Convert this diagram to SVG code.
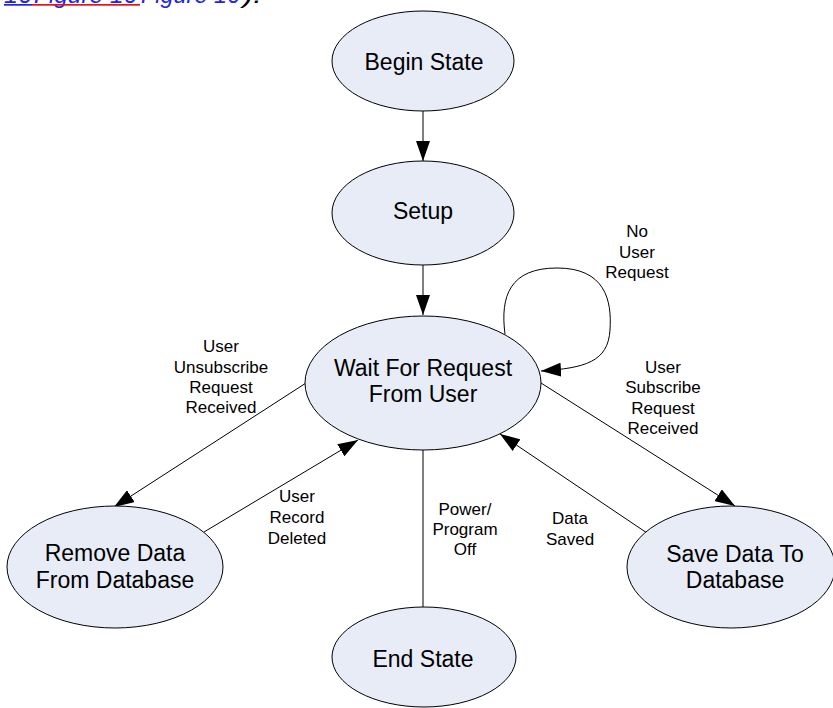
<svg xmlns="http://www.w3.org/2000/svg" width="833" height="708" viewBox="0 0 833 708">
<style>
.node ellipse{fill:#E7ECF7;stroke:#000;stroke-width:1}
.node text{font-family:"Liberation Sans",Arial,sans-serif;font-size:23px;fill:#000;text-anchor:middle}
.edge{fill:none;stroke:#000;stroke-width:1}
.lbl{font-family:"Liberation Sans",Arial,sans-serif;font-size:17px;fill:#000;text-anchor:middle}
.ref{font-family:"Liberation Sans",Arial,sans-serif;font-size:23px;font-style:italic}
</style>
<defs>
<marker id="ah" markerWidth="20" markerHeight="14" refX="20" refY="7" orient="auto" markerUnits="userSpaceOnUse">
<path d="M0,0 L20,7 L0,14 z" fill="#000"/>
</marker>
</defs>
<rect width="833" height="708" fill="#fff"/>
<g id="caption">
<text class="ref" x="4" y="3" fill="#2222EE" textLength="28" lengthAdjust="spacingAndGlyphs">16</text>
<text class="ref" x="34" y="3" fill="#2222EE" textLength="103" lengthAdjust="spacingAndGlyphs">Figure 16</text>
<text class="ref" x="141" y="3" fill="#2222EE" textLength="99" lengthAdjust="spacingAndGlyphs">Figure 16</text>
<text class="ref" x="243" y="3" fill="#000" textLength="19" lengthAdjust="spacingAndGlyphs">).</text>
<rect x="4" y="4" width="28" height="1.7" fill="#2222EE"/>
<rect x="32" y="4" width="108" height="1.7" fill="#EE1111"/>
</g>
<g id="connectors">
<line class="edge" x1="423" y1="111" x2="423" y2="161" marker-end="url(#ah)"/>
<line class="edge" x1="423" y1="265" x2="423" y2="315" marker-end="url(#ah)"/>
<line class="edge" x1="306" y1="383" x2="114" y2="507" marker-end="url(#ah)"/>
<line class="edge" x1="204" y1="532" x2="358" y2="440" marker-end="url(#ah)"/>
<line class="edge" x1="647" y1="533" x2="500" y2="434" marker-end="url(#ah)"/>
<line class="edge" x1="541" y1="383" x2="735" y2="506" marker-end="url(#ah)"/>
<line class="edge" x1="423" y1="450" x2="423" y2="607"/>
<path class="edge" d="M505,334 C500,296 510,268 557,268 C605,268 612,300 610,330 C608,362 585,368 541,371" marker-end="url(#ah)"/>
<text class="lbl" x="637" y="237">No</text>
<text class="lbl" x="637" y="258">User</text>
<text class="lbl" x="637" y="278">Request</text>
<text class="lbl" x="221" y="352">User</text>
<text class="lbl" x="221" y="373">Unsubscribe</text>
<text class="lbl" x="221" y="393">Request</text>
<text class="lbl" x="221" y="413">Received</text>
<text class="lbl" x="663" y="373">User</text>
<text class="lbl" x="663" y="393">Subscribe</text>
<text class="lbl" x="663" y="414">Request</text>
<text class="lbl" x="663" y="434">Received</text>
<text class="lbl" x="297" y="502">User</text>
<text class="lbl" x="297" y="523">Record</text>
<text class="lbl" x="297" y="544">Deleted</text>
<text class="lbl" x="465" y="515">Power/</text>
<text class="lbl" x="465" y="535">Program</text>
<text class="lbl" x="465" y="555">Off</text>
<text class="lbl" x="570" y="524">Data</text>
<text class="lbl" x="570" y="545">Saved</text>
</g>
<g id="begin" class="node">
<ellipse cx="423" cy="61" rx="91" ry="50"/>
<text x="424" y="70">Begin State</text>
</g>
<g id="setup" class="node">
<ellipse cx="423" cy="213" rx="91" ry="52"/>
<text x="423" y="219">Setup</text>
</g>
<g id="wait" class="node">
<ellipse cx="423" cy="383" rx="118" ry="67"/>
<text x="423" y="376">Wait For Request</text>
<text x="423" y="402">From User</text>
</g>
<g id="remove" class="node">
<ellipse cx="115" cy="567" rx="108" ry="61"/>
<text x="115" y="561">Remove Data</text>
<text x="115" y="588">From Database</text>
</g>
<g id="save" class="node">
<ellipse cx="731" cy="567" rx="104" ry="61"/>
<text x="735" y="562">Save Data To</text>
<text x="735" y="588">Database</text>
</g>
<g id="end" class="node">
<ellipse cx="424" cy="657" rx="92" ry="50"/>
<text x="423" y="667">End State</text>
</g>
</svg>
